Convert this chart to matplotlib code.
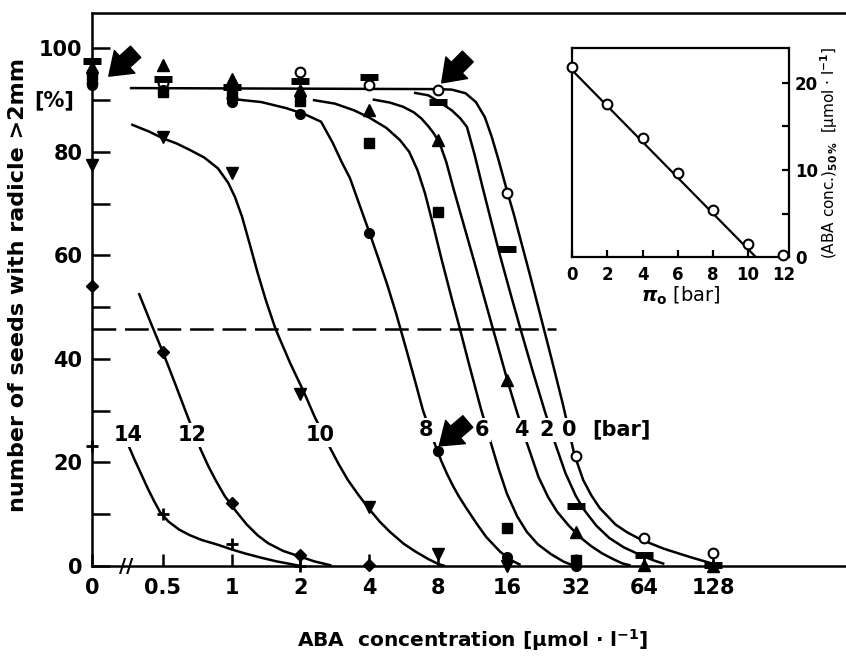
import numpy as np
import matplotlib
matplotlib.use("Agg")
import matplotlib.pyplot as plt
from matplotlib.ticker import FixedLocator, NullLocator

plt.rcParams['font.family'] = ['DejaVu Sans']
plt.rcParams['font.size'] = 15
plt.rcParams['font.weight'] = 'bold'

# ABA concentrations (umol/l) at which germination was scored
conc = [0, 0.5, 1, 2, 4, 8, 16, 32, 64, 128]
conc_ticks = [0, 0.5, 1, 2, 4, 8, 16, 32, 64, 128]
conc_labels = ['0', '0.5', '1', '2', '4', '8', '16', '32', '64', '128']

# % seeds with radicle > 2 mm, per osmotic potential (bar)
germ_0bar = [93.3, 93.3, 90.3, 95.4, 92.9, 91.9, 72.1, 21.2, 5.5, 2.5]
germ_2bar = [97.5, 94.0, 92.5, 93.6, 94.5, 89.6, 61.3, 11.6, 2.1, 0.2]
germ_4bar = [96.4, 96.7, 94.1, 91.9, 88.0, 82.2, 35.9, 6.6, 0.2, 0.0]
germ_6bar = [94.8, 91.6, 91.3, 89.8, 81.6, 68.4, 7.3, 1.2]
germ_8bar = [92.9, 92.0, 89.6, 87.2, 64.3, 22.3, 1.7, 0.0]
germ_10bar = [77.4, 82.8, 75.9, 33.3, 11.4, 2.3, 0.0]
germ_12bar = [54.0, 41.3, 12.2, 2.1, 0.2]
germ_14bar = [23.2, 10.0, 4.2, 0.0]

# hand-drawn fitted curves (log2 of concentration, %)
fit_0bar_log2c = [-1.48, 3.0, 3.2, 3.4, 3.55, 3.68, 3.78, 3.88, 3.95, 4.01, 4.10, 4.22,
                  4.34, 4.49, 4.65, 4.81, 4.90, 4.98, 5.11, 5.23, 5.35, 5.58, 5.75, 5.92,
                  6.1, 6.29, 6.48, 6.67, 6.85, 7.05]
fit_0bar = [92.3, 92.1, 92.0, 91.3, 89.6, 86.7, 82.9, 78.4, 75.0, 72.1, 68.0, 62.0,
            56.0, 48.3, 40.0, 31.5, 26.3, 21.6, 16.6, 13.6, 11.2, 8.0, 6.5, 5.3,
            4.3, 3.3, 2.5, 1.7, 1.0, 0.2]
fit_2bar_log2c = [2.65, 2.86, 3.02, 3.20, 3.32, 3.42, 3.53, 3.65, 3.78, 3.90, 4.07, 4.20,
                  4.37, 4.54, 4.66, 4.85, 5.0, 5.12, 5.3, 5.49, 5.7, 5.96, 6.15, 6.29]
fit_2bar = [91.4, 90.9, 89.6, 88.0, 86.5, 84.8, 79.5, 73.0, 66.2, 60.0, 51.8, 45.7,
            37.9, 30.4, 25.3, 18.0, 13.6, 10.9, 7.8, 5.4, 3.6, 2.0, 1.0, 0.4]
fit_4bar_log2c = [2.05, 2.3, 2.49, 2.65, 2.76, 2.86, 2.93, 3.02, 3.12, 3.23, 3.38, 3.53,
                  3.68, 3.80, 3.90, 4.0, 4.15, 4.27, 4.46, 4.60, 4.73, 4.9, 5.07, 5.23,
                  5.39, 5.55, 5.68, 5.8]
fit_4bar = [90.1, 89.5, 88.7, 87.6, 86.4, 84.9, 83.7, 81.8, 78.0, 72.6, 65.6, 58.6,
            51.4, 45.7, 41.0, 36.2, 29.6, 24.6, 17.2, 13.3, 10.5, 7.8, 5.5, 3.8,
            2.4, 1.3, 0.5, 0.1]
fit_6bar_log2c = [1.18, 1.5, 1.78, 2.0, 2.25, 2.45, 2.58, 2.70, 2.81, 2.93, 3.05, 3.20,
                  3.31, 3.45, 3.62, 3.74, 3.88, 4.0, 4.15, 4.29, 4.45, 4.64, 4.83, 4.95]
fit_6bar = [90.0, 89.3, 88.0, 86.6, 84.6, 82.2, 80.0, 76.5, 72.0, 65.8, 59.3, 51.6,
            46.2, 39.0, 30.5, 25.0, 18.8, 14.0, 9.6, 6.6, 4.2, 2.3, 0.8, 0.2]
fit_8bar_log2c = [-0.07, 0.43, 0.80, 1.07, 1.30, 1.47, 1.60, 1.72, 1.865, 2.0, 2.13, 2.26,
                  2.39, 2.52, 2.65, 2.78, 2.90, 2.985, 3.05, 3.13, 3.22, 3.30, 3.40, 3.55,
                  3.70, 3.90, 4.05, 4.2]
fit_8bar = [90.3, 89.6, 88.4, 87.2, 85.8, 81.7, 78.0, 74.9, 69.5, 64.5, 59.5, 54.4,
            48.8, 42.7, 36.5, 30.1, 25.5, 22.4, 20.2, 17.8, 15.4, 13.5, 11.4, 8.4,
            5.6, 2.8, 1.2, 0.2]
fit_10bar_log2c = [-1.46, -1.2, -1.0, -0.8, -0.6, -0.4, -0.2, -0.05, 0.05, 0.15, 0.26,
                   0.38, 0.5, 0.64, 0.85, 1.06, 1.20, 1.40, 1.55, 1.69, 1.85, 2.0, 2.15,
                   2.30, 2.5, 2.67, 2.85, 3.0, 3.1]
fit_10bar = [85.3, 83.9, 82.6, 81.6, 80.3, 78.9, 76.8, 74.0, 71.2, 67.5, 62.3,
             56.5, 51.2, 45.7, 39.2, 33.3, 29.0, 23.6, 19.8, 16.6, 13.6, 11.0, 8.6,
             6.6, 4.3, 2.8, 1.4, 0.4, 0.0]
fit_12bar_log2c = [-1.35, -1.18, -1.0, -0.83, -0.67, -0.55, -0.45, -0.34, -0.23, -0.1,
                   0.05, 0.22, 0.38, 0.53, 0.75, 1.0, 1.2, 1.45]
fit_12bar = [52.7, 47.1, 41.3, 35.5, 29.9, 25.8, 22.5, 19.3, 16.5, 13.5,
             10.8, 8.0, 5.9, 4.4, 2.9, 1.8, 0.9, 0.1]
fit_14bar_log2c = [-1.51, -1.42, -1.32, -1.22, -1.13, -1.04, -0.92, -0.76, -0.6, -0.43,
                   -0.2, 0.0, 0.2, 0.43, 0.65, 0.85, 1.0]
fit_14bar = [23.6, 20.8, 17.9, 15.0, 12.6, 10.4, 8.6, 7.0, 5.9, 5.0,
             4.1, 3.2, 2.4, 1.6, 0.9, 0.4, 0.0]

# curve labels (bar) and their positions
bar_labels = ['14', '12', '10', '8', '6', '4', '2', '0', '[bar]']
bar_label_conc = [0.351, 0.674, 2.44, 7.11, 12.4, 18.5, 23.9, 29.9, 50.6]
bar_label_y = [25.3, 25.3, 25.3, 26.3, 26.3, 26.3, 26.3, 26.3, 26.3]

# 50 % level and the arrows (tail conc, tail %, tip conc, tip %)
half_level = 45.7
half_end_conc = 26.2
arrows = [(0.38, 99.3, 0.29, 94.6), (10.8, 98.4, 8.3, 93.3), (10.8, 27.9, 8.1, 23.2)]

# inset: ABA conc. for 50 % germination vs osmotic potential
pi_bar = [0, 2, 4, 6, 8, 10, 12]
aba50 = [21.8, 17.6, 13.7, 9.7, 5.4, 1.5, 0.3]
fit50_x = [0, 10.45]
fit50_y = [21.4, 0]

ZERO_C = 2 ** -2.03   # where "0" sits on the broken log axis


def fwd(x):
    return np.log2(np.maximum(np.asarray(x, dtype=float), ZERO_C))


def inv(u):
    return np.exp2(u)


fig = plt.figure(figsize=(8.46, 6.56), dpi=100)
ax = fig.add_axes([92/846, 90/656, 754/846, 553/656])
ax.set_xscale('function', functions=(fwd, inv))
ax.set_xlim(0, 2 ** 8.93)
ax.set_ylim(0, 106.8)

lw = 1.8
for u, v in [(fit_0bar_log2c, fit_0bar), (fit_2bar_log2c, fit_2bar),
             (fit_4bar_log2c, fit_4bar), (fit_6bar_log2c, fit_6bar),
             (fit_8bar_log2c, fit_8bar), (fit_10bar_log2c, fit_10bar),
             (fit_12bar_log2c, fit_12bar), (fit_14bar_log2c, fit_14bar)]:
    ax.plot(np.exp2(u), v, color='black', lw=lw, zorder=2, solid_capstyle='butt',
            solid_joinstyle='round')

ax.plot([0, half_end_conc], [half_level, half_level], color='black', lw=lw,
        linestyle=(0, (9.5, 3.5)), zorder=2)

mk = dict(color='black', linestyle='none', zorder=4, clip_on=False)
ax.plot(conc, germ_0bar, marker='o', ms=7, mfc='white', mec='black', mew=1.5, **mk)
ax.plot(conc, germ_2bar, marker='_', ms=13, mew=5, **mk)
ax.plot(conc, germ_4bar, marker='^', ms=8, **mk)
ax.plot(conc[:len(germ_6bar)], germ_6bar, marker='s', ms=7, **mk)
ax.plot(conc[:len(germ_8bar)], germ_8bar, marker='o', ms=7, **mk)
ax.plot(conc[:len(germ_10bar)], germ_10bar, marker='v', ms=8, **mk)
ax.plot(conc[:len(germ_12bar)], germ_12bar, marker='D', ms=6, **mk)
ax.plot(conc[:len(germ_14bar)], germ_14bar, marker='+', ms=9, mew=2, **mk)

for t, c, y in zip(bar_labels, bar_label_conc, bar_label_y):
    ax.text(c, y, t, ha='center', va='center', fontsize=15, zorder=3,
            bbox=dict(fc='white', ec='none', pad=1.5))

for tc, tv, hc, hv in arrows:
    ax.annotate('', xy=(hc, hv), xytext=(tc, tv),
                arrowprops=dict(arrowstyle='simple,head_length=0.7,head_width=1.0,tail_width=0.5',
                                fc='black', ec='black', mutation_scale=22,
                                shrinkA=0, shrinkB=0), zorder=5)

# axis break on the concentration axis
ax.text(0.344, 0, '//', ha='center', va='center', fontsize=14)

for s in ['left', 'bottom', 'top']:
    ax.spines[s].set_linewidth(lw)
ax.spines['right'].set_visible(False)

ax.xaxis.set_major_locator(FixedLocator(conc_ticks))
ax.xaxis.set_minor_locator(NullLocator())
ax.set_xticklabels(conc_labels)
ax.set_yticks([0, 20, 40, 60, 80, 100])
ax.set_yticks([10, 30, 50, 70, 90], minor=True)
ax.tick_params(axis='x', direction='in', length=8.5, width=lw, pad=9, labelsize=15)
ax.tick_params(axis='y', which='both', direction='in', length=13, width=lw, pad=7,
               labelsize=15)
ax.tick_params(top=False, right=False)
ax.text(-0.05, 90, '[%]', transform=ax.get_yaxis_transform(), ha='center', va='center',
        fontsize=15)

fig.text(18/846, (656-285)/656, 'number of seeds with radicle >2mm', rotation=90,
         ha='center', va='center', fontsize=16)
fig.text(473/846, (656-640)/656, 'ABA  concentration [µmol · l$^{-1}$]',
         ha='center', va='center', fontsize=14.5)

# inset
ax_in = fig.add_axes([572.3/846, (656-257.3)/656, 217/846, 209.6/656])
ax_in.plot(fit50_x, fit50_y, color='black', lw=1.6, zorder=2)
ax_in.plot(pi_bar, aba50, 'o', ms=7, mfc='white', mec='black', mew=1.5, zorder=3,
           clip_on=False)
ax_in.set_xlim(0, 12.34)
ax_in.set_ylim(0, 24)
for s in ax_in.spines.values():
    s.set_linewidth(1.6)
ax_in.set_xticks([0, 2, 4, 6, 8, 10, 12])
ax_in.yaxis.tick_right()
ax_in.yaxis.set_label_position('right')
ax_in.set_yticks([0, 10, 20])
ax_in.set_yticks([5, 15], minor=True)
ax_in.tick_params(axis='x', direction='in', length=5, width=1.6, pad=6, labelsize=12)
ax_in.tick_params(axis='y', which='both', direction='in', length=5, width=1.6, pad=4,
                  labelsize=12)
ax_in.set_xlabel(r'$\pi_{\mathrm{o}}$ [bar]', fontsize=14, labelpad=1)
ax_in.set_ylabel(r'(ABA conc.)$_{50\,\%}$  [µmol · l$^{-1}$]', fontsize=11, labelpad=0)

fig.savefig('out.png', dpi=100)
